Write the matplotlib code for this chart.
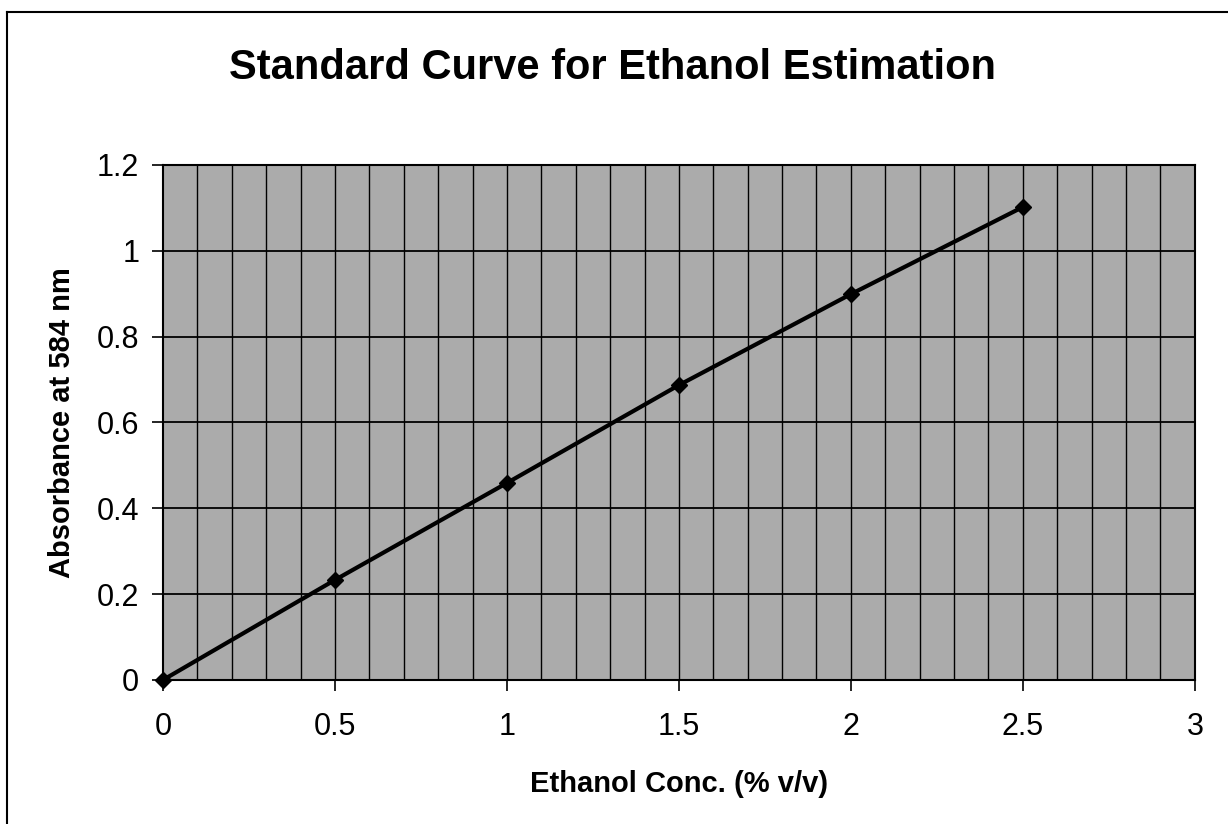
import numpy as np
import matplotlib.pyplot as plt
import matplotlib.lines as mlines

# standard curve readings
conc = [0, 0.5, 1.0, 1.5, 2.0, 2.5]
absorb = [0.0, 0.233, 0.459, 0.687, 0.899, 1.102]

xticks = [0, 0.5, 1, 1.5, 2, 2.5, 3]
xtick_labels = ['0', '0.5', '1', '1.5', '2', '2.5', '3']
yticks = [0, 0.2, 0.4, 0.6, 0.8, 1.0, 1.2]
ytick_labels = ['0', '0.2', '0.4', '0.6', '0.8', '1', '1.2']

plt.rcParams['font.family'] = ['Liberation Sans', 'DejaVu Sans']

fig = plt.figure(figsize=(12.28, 8.24), dpi=100)
ax = fig.add_axes([0.1327, 0.1748, 0.8403, 0.625])
ax.set_facecolor('#ababab')

# grid: vertical every 0.1, horizontal every 0.2
for gx in np.arange(0.1, 3.0, 0.1):
    ax.axvline(gx, color='black', lw=1.0, zorder=1)
for gy in yticks[1:-1]:
    ax.axhline(gy, color='black', lw=1.3, zorder=1)

ax.plot(conc, absorb, color='black', lw=3, marker='D', markersize=8, zorder=3,
        clip_on=False)

ax.set_xlim(0, 3)
ax.set_ylim(0, 1.2)
ax.set_xticks(xticks)
ax.set_xticklabels(xtick_labels)
ax.set_yticks(yticks)
ax.set_yticklabels(ytick_labels)
ax.tick_params(axis='both', direction='out', length=8, width=1.2, labelsize=22)
ax.tick_params(axis='x', pad=15)
ax.tick_params(axis='y', pad=9)
for s in ax.spines.values():
    s.set_linewidth(1.5)

ax.set_xlabel('Ethanol Conc. (% v/v)', fontsize=21, fontweight='bold', labelpad=20)
ax.set_ylabel('Absorbance at 584 nm', fontsize=21, fontweight='bold', labelpad=15)
fig.text(0.499, 0.917, 'Standard Curve for Ethanol Estimation', fontsize=30,
         fontweight='bold', ha='center', va='center')

# outer chart frame (left and top edges visible in the scan)
fig.add_artist(mlines.Line2D([0.006, 0.006], [0.0, 0.985], color='black', lw=1.5))
fig.add_artist(mlines.Line2D([0.006, 1.0], [0.985, 0.985], color='black', lw=1.5))

fig.savefig('out.png', dpi=100)
